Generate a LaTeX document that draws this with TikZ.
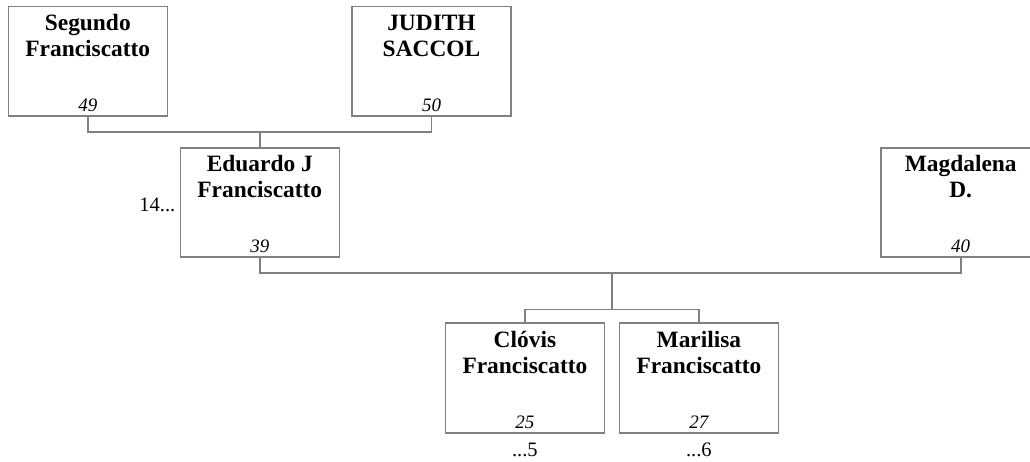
\documentclass[tikz,border=0pt]{standalone}
\usepackage{fontspec}
\setmainfont{Liberation Serif}
\usetikzlibrary{positioning}
\definecolor{linegray}{RGB}{128,128,128}

\begin{document}
\begin{tikzpicture}[x=1pt,y=-1pt,
    person/.style={draw=linegray,line width=1.6pt,minimum width=159pt,minimum height=109.5pt,inner sep=0pt},
    pname/.style={anchor=base,align=center,inner sep=0pt,font=\fontsize{23.4}{26}\selectfont\bfseries},
    pnum/.style={anchor=base,inner sep=0pt,font=\fontsize{19}{20}\selectfont\itshape},
    pmore/.style={inner sep=0pt,font=\fontsize{20.5}{22}\selectfont},
    link/.style={draw=linegray,line width=1.6pt}]
\useasboundingbox (0,0) rectangle (1030,462);
\node[person] (segundo) at (87.8,61.3) {};
\node[person] (judith) at (431.5,61.3) {};
\node[person] (eduardo) at (259.8,202.5) {};
\node[person] (magdalena) at (960.7,202.5) {};
\node[person] (clovis) at (524.9,378) {};
\node[person] (marilisa) at (698.9,378) {};
\node[pname] (segundoN) at ([yshift=-51pt]segundo.north) {Segundo\\Franciscatto};
\node[pname] (judithN) at ([yshift=-51pt]judith.north) {JUDITH\\SACCOL};
\node[pname] (eduardoN) at ([yshift=-51pt]eduardo.north) {Eduardo J\\Franciscatto};
\node[pname] (magdalenaN) at ([yshift=-51pt]magdalena.north) {Magdalena\\D.};
\node[pname] (clovisN) at ([yshift=-51pt]clovis.north) {Clóvis\\Franciscatto};
\node[pname] (marilisaN) at ([yshift=-51pt]marilisa.north) {Marilisa\\Franciscatto};
\node[pnum] (segundoY) at ([yshift=5.5pt]segundo.south) {49};
\node[pnum] (judithY) at ([yshift=5.5pt]judith.south) {50};
\node[pnum] (eduardoY) at ([yshift=5.5pt]eduardo.south) {39};
\node[pnum] (magdalenaY) at ([yshift=5.5pt]magdalena.south) {40};
\node[pnum] (clovisY) at ([yshift=5.5pt]clovis.south) {25};
\node[pnum] (marilisaY) at ([yshift=5.5pt]marilisa.south) {27};
\node[pmore,anchor=base east] (eduardoM) at ([xshift=-4pt,yshift=-9.2pt]eduardo.west) {14...};
\node[pmore,anchor=base] (clovisM) at ([yshift=-22.5pt]clovis.south) {...5};
\node[pmore,anchor=base] (marilisaM) at ([yshift=-22.5pt]marilisa.south) {...6};
\coordinate (up) at (eduardo.north |- 0,132);
\coordinate (down) at (611.7,273);
\coordinate (kids) at (611.7,309.3);
\draw[link] (segundo.south) |- (up) -| (judith.south);
\draw[link] (up) -- (eduardo.north);
\draw[link] (eduardo.south) |- (down) -| (magdalena.south);
\draw[link] (down) -- (kids);
\draw[link] (clovis.north) |- (kids) -| (marilisa.north);
\end{tikzpicture}
\end{document}
